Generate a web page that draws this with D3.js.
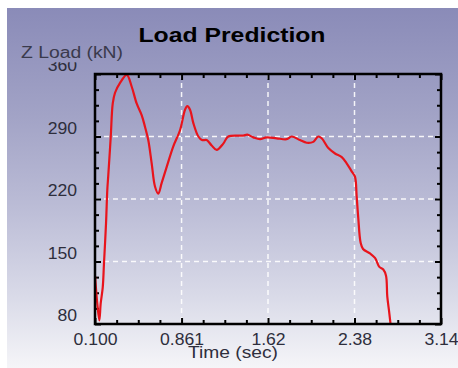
<!DOCTYPE html>
<html><head><meta charset="utf-8">
<script src="https://cdn.jsdelivr.net/npm/d3@7"></script>
<style>body{margin:0;background:#fff}svg{display:block}</style>
</head><body>
<script>
// ---- data ----
const timeSec = [0.100,0.120,0.138,0.150,0.168,0.179,0.197,0.208,0.217,0.238,0.256,0.276,0.320,0.379,0.422,0.466,0.510,0.539,0.568,0.598,0.627,0.656,0.686,0.730,0.788,0.847,0.891,0.911,0.935,0.964,1.008,1.040,1.081,1.125,1.169,1.227,1.271,1.403,1.438,1.491,1.550,1.609,1.696,1.784,1.828,1.901,1.960,2.018,2.062,2.092,2.150,2.209,2.268,2.311,2.355,2.384,2.399,2.413,2.434,2.455,2.516,2.560,2.598,2.633,2.657,2.668,2.686,2.700];
const zLoad = [134,103,84,103,121,148,193,230,247,289,327,339,350,359,346,327,314,301,286,260,234,226,238,256,279,297,320,324,320,305,290,286,286,280,275,282,290,291,292,289,287,289,288,287,290,286,283,284,290,288,277,271,267,260,251,245,223,199,171,164,159,154,144,141,134,111,92,76];
const xTickValues = [0.100,0.8605,1.62,2.38,3.14];
const xTickLabels = ["0.100","0.861","1.62","2.38","3.14"];
const yTickValues = [80,150,220,290,360];
const yTickLabels = ["80","150","220","290","360"];
const titleText = "Load Prediction";
const xTitle = "Time (sec)";
const yTitle = "Z Load (kN)";

const W = 458, H = 368;
const svg = d3.select("body").append("svg").attr("width", W).attr("height", H);
const defs = svg.append("defs");
const grad = defs.append("linearGradient").attr("id","bg").attr("x1",0).attr("y1",0).attr("x2",0).attr("y2",1);
[[0,"#8a8bb8"],[0.3,"#a2a3c6"],[0.55,"#bbbcd6"],[0.8,"#d9dae8"],[1,"#f5f5f8"]].forEach(([o,c])=>grad.append("stop").attr("offset",o).attr("stop-color",c));
svg.append("rect").attr("x",7).attr("y",8).attr("width",W-7).attr("height",H-8).attr("fill","url(#bg)");

const L=95,R=441,T=74,B=324;
const x = d3.scaleLinear().domain([0.1,3.14]).range([L,R]);
const y = d3.scaleLinear().domain([80,360]).range([B,T]);

defs.append("clipPath").attr("id","plot").append("rect").attr("x",L).attr("y",T-1).attr("width",R-L).attr("height",B-T+1);
// clip (in the 360 tick's local coordinates) hiding the top of the "360" label
defs.append("clipPath").attr("id","topclip").append("rect").attr("x",-100).attr("y",-12.3).attr("width",100).attr("height",40);

// gridlines
const grid = svg.append("g");
grid.selectAll("line.gx").data(xTickValues.slice(1,-1)).join("line")
  .attr("x1",d=>x(d)).attr("x2",d=>x(d)).attr("y1",T).attr("y2",B)
  .attr("stroke","#fff").attr("stroke-width",1.5).attr("stroke-dasharray","5,4").attr("opacity",0.9);
grid.selectAll("line.gy").data(yTickValues.slice(1,-1)).join("line")
  .attr("y1",d=>y(d)).attr("y2",d=>y(d)).attr("x1",L).attr("x2",R)
  .attr("stroke","#fff").attr("stroke-width",1.5).attr("stroke-dasharray","5,4").attr("opacity",0.9);

// minor tick values
const xMinor = [], yMinor = [];
for(let i=0;i<xTickValues.length-1;i++){const a=xTickValues[i],b=xTickValues[i+1];for(let k=1;k<4;k++)xMinor.push(a+(b-a)*k/4);}
for(let i=0;i<yTickValues.length-1;i++){const a=yTickValues[i],b=yTickValues[i+1];for(let k=1;k<4;k++)yMinor.push(a+(b-a)*k/4);}

function styleAxis(g){g.select(".domain").remove();g.selectAll(".tick line").attr("stroke","#000").attr("stroke-width",2);}

const fontFam = "'Liberation Sans', Arial, sans-serif";
// bottom
const gB = svg.append("g").attr("transform",`translate(0,${B})`)
  .call(d3.axisBottom(x).tickValues(xTickValues).tickSize(-6).tickPadding(10).tickFormat((d,i)=>xTickLabels[i]));
styleAxis(gB);
gB.selectAll("text").attr("font-family",fontFam).attr("font-size",16).attr("fill","#2e2e3c");
svg.append("g").attr("transform",`translate(0,${B})`).call(d3.axisBottom(x).tickValues(xMinor).tickSize(-4).tickFormat("")).call(styleAxis);
// top
svg.append("g").attr("transform",`translate(0,${T})`).call(d3.axisTop(x).tickValues(xTickValues).tickSize(-6).tickFormat("")).call(styleAxis);
svg.append("g").attr("transform",`translate(0,${T})`).call(d3.axisTop(x).tickValues(xMinor).tickSize(-4).tickFormat("")).call(styleAxis);
// left
const gL = svg.append("g").attr("transform",`translate(${L},0)`)
  .call(d3.axisLeft(y).tickValues(yTickValues).tickSize(-6).tickPadding(18).tickFormat((d,i)=>yTickLabels[i]));
styleAxis(gL);
gL.selectAll("text").attr("font-family",fontFam).attr("font-size",16).attr("fill","#2e2e3c").attr("dy","-0.2em");
gL.selectAll(".tick").filter(d=>d===360).select("text").attr("clip-path","url(#topclip)");
svg.append("g").attr("transform",`translate(${L},0)`).call(d3.axisLeft(y).tickValues(yMinor).tickSize(-4).tickFormat("")).call(styleAxis);
// right
svg.append("g").attr("transform",`translate(${R},0)`).call(d3.axisRight(y).tickValues(yTickValues).tickSize(-6).tickFormat("")).call(styleAxis);
svg.append("g").attr("transform",`translate(${R},0)`).call(d3.axisRight(y).tickValues(yMinor).tickSize(-4).tickFormat("")).call(styleAxis);

// stretch tick labels slightly
svg.selectAll(".tick text").each(function(){const w=this.getComputedTextLength();if(w>0)d3.select(this).attr("textLength",w*1.1).attr("lengthAdjust","spacingAndGlyphs");});

// line
const pts = timeSec.map((t,i)=>[t,zLoad[i]]);
svg.append("path").datum(pts).attr("clip-path","url(#plot)")
  .attr("d",d3.line().x(d=>x(d[0])).y(d=>y(d[1])).curve(d3.curveCatmullRom.alpha(0.5)))
  .attr("fill","none").attr("stroke","#e8141c").attr("stroke-width",2.2).attr("stroke-linejoin","round");

// frame
svg.append("rect").attr("x",L).attr("y",T).attr("width",R-L).attr("height",B-T)
  .attr("fill","none").attr("stroke","#000").attr("stroke-width",2.5);

// titles
svg.append("text").attr("x",232).attr("y",42).attr("text-anchor","middle")
  .attr("font-family",fontFam).attr("font-weight","bold").attr("font-size",21)
  .attr("textLength",187).attr("lengthAdjust","spacingAndGlyphs").attr("fill","#000").text(titleText);
svg.append("text").attr("x",21).attr("y",58)
  .attr("font-family",fontFam).attr("font-size",16)
  .attr("textLength",102).attr("lengthAdjust","spacingAndGlyphs").attr("fill","#3a3a4c").text(yTitle);
svg.append("text").attr("x",233).attr("y",358).attr("text-anchor","middle")
  .attr("font-family",fontFam).attr("font-size",16)
  .attr("textLength",90).attr("lengthAdjust","spacingAndGlyphs").attr("fill","#2e2e3c").text(xTitle);
</script>
</body></html>
